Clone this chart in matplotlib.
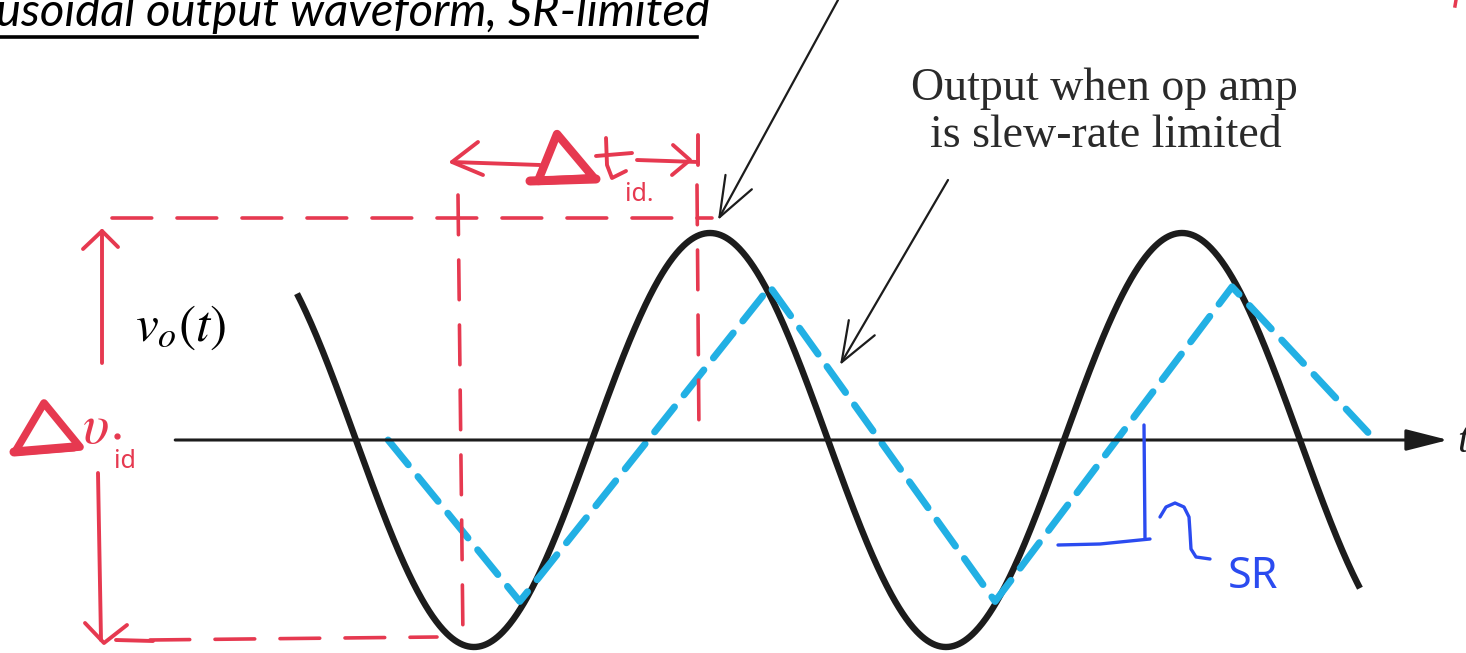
import numpy as np
import matplotlib
matplotlib.use("Agg")
import matplotlib.pyplot as plt
from matplotlib.patches import ArrowStyle

plt.rcParams["mathtext.fontset"] = "stix"

# sinusoidal output (ideal) -- amplitude in V, period in us
amp = 1.0
period = 10.0
t_start, t_end = -6.25, 16.27

# slew-rate limited output: corner points of the triangle wave
tri_t = [-4.32, -1.53, 3.77, 8.54, 13.56, 16.59]
tri_v = [0.0, -0.78, 0.74, -0.78, 0.74, 0.0]

# time axis extent (us)
axis_t = [-8.83, 18.14]

red = "#E63950"
blue_dash = "#22B0E4"
blue_pen = "#2B4BF0"
ink = "#1c1c1c"

W, H = 1466, 653
px_per_us, t0_px = 47.2, 592
px_per_v, v0_px = 207, 440

fig = plt.figure(figsize=(W / 100, H / 100), dpi=100)
ax = fig.add_axes([0, 0, 1, 1])
ax.set_xlim(-t0_px / px_per_us, (W - t0_px) / px_per_us)
ax.set_ylim((v0_px - H) / px_per_v, v0_px / px_per_v)
ax.axis("off")

# overlay in pixel units for the hand-drawn notes
ov = fig.add_axes([0, 0, 1, 1], facecolor="none")
ov.set_xlim(0, W)
ov.set_ylim(H, 0)
ov.axis("off")

# time axis with arrow head
ax.annotate("", xy=(axis_t[1], 0), xytext=(axis_t[0], 0),
            arrowprops=dict(arrowstyle=ArrowStyle("-|>", head_length=1.3, head_width=0.33),
                            lw=2.2, color=ink, mutation_scale=20, shrinkA=0, shrinkB=0))
ov.text(1457, 452, "t", fontsize=30, family="Liberation Serif", style="italic",
        color=ink, ha="left", va="baseline")

# waveforms
t = np.linspace(t_start, t_end, 1200)
ax.plot(t, amp * np.sin(2 * np.pi * t / period), color=ink, lw=4.6, solid_capstyle="butt")
ax.plot(tri_t, tri_v, color=blue_dash, lw=5, dashes=(4.6, 2.2), dash_capstyle="round")

# callout text and arrows
serif = "Liberation Serif"
ov.text(1104, 100, "Output when op amp", fontsize=33, family=serif, color="#2a2a2a",
        ha="center", va="baseline")
ov.text(1106, 147, "is slew-rate limited", fontsize=33, family=serif, color="#2a2a2a",
        ha="center", va="baseline")
arr = dict(arrowstyle=ArrowStyle("->", head_length=1.6, head_width=0.6),
           lw=1.6, color=ink, mutation_scale=18, shrinkA=0, shrinkB=0)
ov.annotate("", xy=(718, 220), xytext=(838, 0), arrowprops=arr)
ov.annotate("", xy=(840, 365), xytext=(948, 180), arrowprops=arr)

# title (partly cropped at the top)
ov.text(-4, 26, "usoidal output waveform, SR-limited", fontsize=34, family="Lato",
        style="italic", color="black", ha="left", va="baseline")
ov.plot([0, 697], [37, 37], color="black", lw=2.6)

# red guide lines
rd = dict(color=red, lw=2.6, dashes=(11, 7), solid_capstyle="round", dash_capstyle="round")
ov.plot([112, 712], [218, 218], **rd)
ov.plot([150, 437], [640, 637], **rd)
ov.plot([458, 463], [195, 640], **rd)
ov.plot([697, 699], [185, 435], **rd)

pen = dict(color=red, lw=2.8, solid_capstyle="round", solid_joinstyle="round")
# vertical range arrows
ov.plot([102, 102], [363, 231], **pen)
ov.plot([83, 102, 118], [249, 231, 247], **pen)
ov.plot([98, 101], [473, 640], **pen)
ov.plot([85, 104, 127], [623, 643, 625], **pen)
ov.plot([116, 153], [640, 641], **pen)

# delta-t arrow
ov.plot([452, 540], [162, 165], **pen)
ov.plot([478, 452, 483], [142, 162, 175], **pen)
ov.plot([637, 698], [160, 162], **pen)
ov.plot([673, 690, 672], [145, 160, 175], **pen)
ov.plot([698, 698], [135, 165], **pen)

# hand-drawn deltas
ov.fill([538, 557, 594], [181, 134, 178], facecolor="none", edgecolor=red, lw=6,
        joinstyle="round")
ov.plot([530, 596], [181, 179], color=red, lw=6.5, solid_capstyle="round")
ov.plot([606, 607, 612, 626], [138, 165, 178, 171], **pen)
ov.plot([596, 632], [156, 153], **pen)
ov.text(625, 201, "id.", fontsize=18, family="Noto Sans", color=red, ha="left", va="baseline")

ov.fill([15, 44, 80], [452, 403, 447], facecolor="none", edgecolor=red, lw=5.5,
        joinstyle="round")
ov.plot([14, 74], [452, 447], color=red, lw=6.5, solid_capstyle="round")
ov.text(82, 443, r"$\upsilon$", fontsize=40, color=red, ha="left", va="baseline")
ov.text(114, 468, "id", fontsize=18, family="Noto Sans", color=red, ha="left", va="baseline")
ov.plot([117], [436], "o", color=red, ms=3.5)

# output label
ov.text(135, 341, r"$v_o(t)$", fontsize=37, color="black", ha="left", va="baseline")

# slew-rate note
bp = dict(color=blue_pen, lw=2.4, solid_capstyle="round", solid_joinstyle="round")
ov.plot([1144, 1145], [425, 538], **bp)
ov.plot([1058, 1100, 1150], [545, 544, 539], **bp)
ov.plot([1160, 1166, 1175, 1184, 1189, 1190, 1191, 1196, 1210],
        [517, 507, 503, 507, 517, 532, 549, 557, 559], **bp)
ov.text(1228, 588, "SR", fontsize=31, family="Noto Sans", color=blue_pen,
        ha="left", va="baseline")

# stray pen mark at the top right
ov.plot([1456, 1455], [0, 6], color=red, lw=2.5)

fig.savefig("out.png", dpi=100)
